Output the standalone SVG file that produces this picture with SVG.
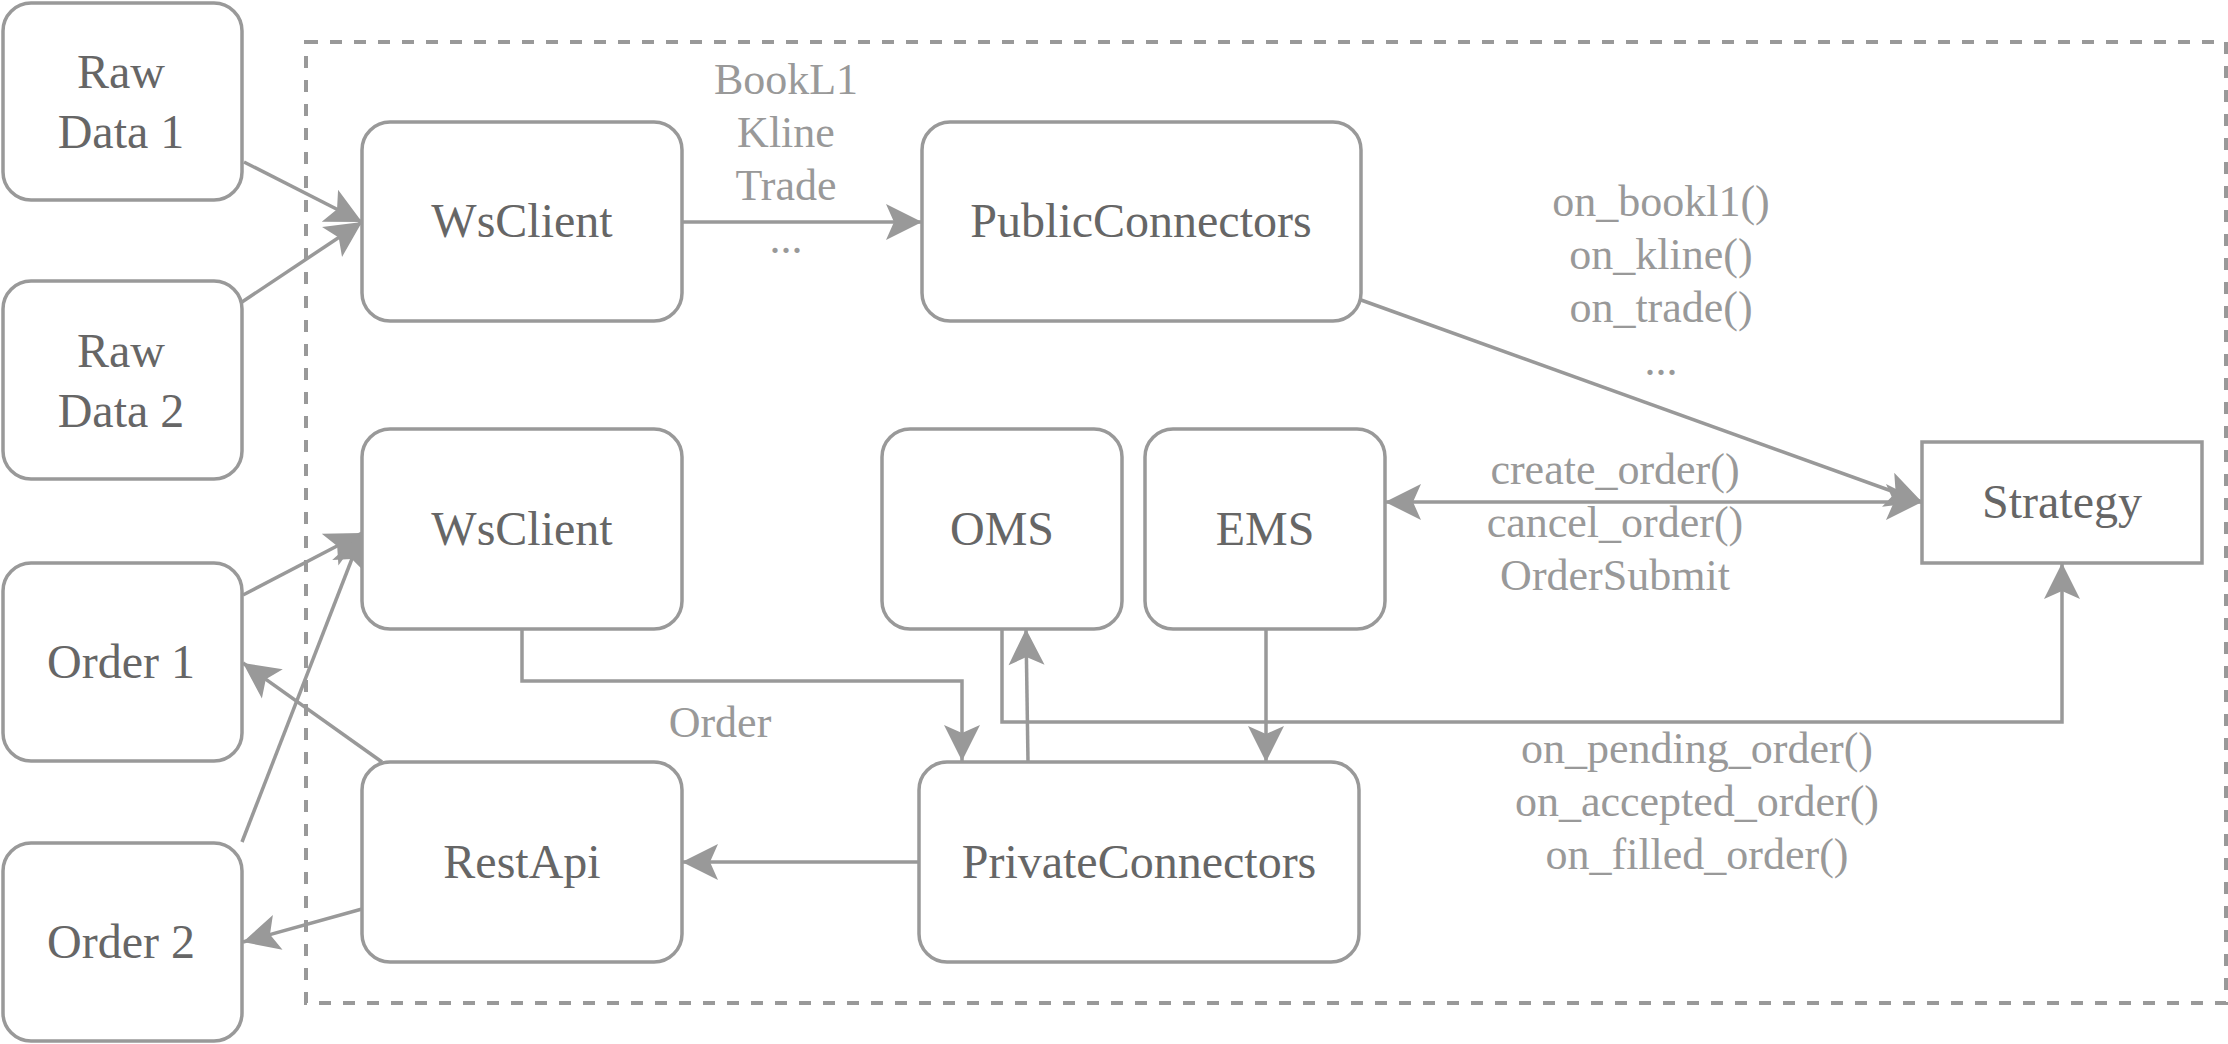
<svg xmlns="http://www.w3.org/2000/svg" width="2228" height="1044" viewBox="0 0 2228 1044">
<defs>
<style>
.node{fill:#ffffff;stroke:#999999;stroke-width:3.5}
.nt{font-family:"Liberation Serif","Times New Roman",serif;font-size:48px;fill:#666666;text-anchor:middle}
.el{font-family:"Liberation Serif","Times New Roman",serif;font-size:44px;fill:#999999;text-anchor:middle}
.edge{fill:none;stroke:#999999;stroke-width:3.5}
.frame{fill:none;stroke:#999999;stroke-width:4;stroke-dasharray:12 12}
</style>
<marker id="arr" markerUnits="userSpaceOnUse" markerWidth="40" markerHeight="40" refX="36" refY="18" orient="auto-start-reverse" overflow="visible">
<path d="M36,18 L0,0 L8,18 L0,36 Z" fill="#999999"/>
</marker>
</defs>
<rect width="2228" height="1044" fill="#ffffff"/>
<rect class="frame" x="306" y="42" width="1920" height="961"/>
<g id="connectors">
<path class="edge" d="M244,162 L362,222" marker-end="url(#arr)"/>
<path class="edge" d="M242,302 L362,222" marker-end="url(#arr)"/>
<path class="edge" d="M682,222 L922,222" marker-end="url(#arr)"/>
<path class="edge" d="M1361,300 L1922,502" marker-end="url(#arr)"/>
<path class="edge" d="M1385,502 L1922,502" marker-start="url(#arr)" marker-end="url(#arr)"/>
<path class="edge" d="M243,595 L362,533" marker-end="url(#arr)"/>
<path class="edge" d="M242,842 L362,533" marker-end="url(#arr)"/>
<path class="edge" d="M382,762 L243,663" marker-end="url(#arr)"/>
<path class="edge" d="M362,909 L243,942" marker-end="url(#arr)"/>
<path class="edge" d="M522,629 L522,681 L962,681 L962,761" marker-end="url(#arr)"/>
<path class="edge" d="M1028,762 L1026,629" marker-end="url(#arr)"/>
<path class="edge" d="M1266,629 L1266,762" marker-end="url(#arr)"/>
<path class="edge" d="M1002,629 L1002,722 L2062,722 L2062,563" marker-end="url(#arr)"/>
<path class="edge" d="M919,862 L682,862" marker-end="url(#arr)"/>
<text class="el" x="786" y="94">BookL1</text>
<text class="el" x="786" y="147">Kline</text>
<text class="el" x="786" y="200">Trade</text>
<text class="el" x="786" y="253">...</text>
<text class="el" x="1661" y="216">on_bookl1()</text>
<text class="el" x="1661" y="269">on_kline()</text>
<text class="el" x="1661" y="322">on_trade()</text>
<text class="el" x="1661" y="375">...</text>
<text class="el" x="1615" y="484">create_order()</text>
<text class="el" x="1615" y="537">cancel_order()</text>
<text class="el" x="1615" y="590">OrderSubmit</text>
<text class="el" x="720" y="737">Order</text>
<text class="el" x="1697" y="763">on_pending_order()</text>
<text class="el" x="1697" y="816">on_accepted_order()</text>
<text class="el" x="1697" y="869">on_filled_order()</text>
</g>
<g id="raw1"><rect class="node" x="3" y="3" width="239" height="197" rx="28"/><text class="nt" x="121" y="88">Raw</text><text class="nt" x="121" y="148">Data 1</text></g>
<g id="raw2"><rect class="node" x="3" y="281" width="239" height="198" rx="28"/><text class="nt" x="121" y="367">Raw</text><text class="nt" x="121" y="427">Data 2</text></g>
<g id="order1"><rect class="node" x="3" y="563" width="239" height="198" rx="28"/><text class="nt" x="121" y="678">Order 1</text></g>
<g id="order2"><rect class="node" x="3" y="843" width="239" height="198" rx="28"/><text class="nt" x="121" y="958">Order 2</text></g>
<g id="wsclient1"><rect class="node" x="362" y="122" width="320" height="199" rx="28"/><text class="nt" x="522" y="237">WsClient</text></g>
<g id="public"><rect class="node" x="922" y="122" width="439" height="199" rx="28"/><text class="nt" x="1141" y="237">PublicConnectors</text></g>
<g id="wsclient2"><rect class="node" x="362" y="429" width="320" height="200" rx="28"/><text class="nt" x="522" y="545">WsClient</text></g>
<g id="oms"><rect class="node" x="882" y="429" width="240" height="200" rx="28"/><text class="nt" x="1002" y="545">OMS</text></g>
<g id="ems"><rect class="node" x="1145" y="429" width="240" height="200" rx="28"/><text class="nt" x="1265" y="545">EMS</text></g>
<g id="strategy"><rect class="node" x="1922" y="442" width="280" height="121"/><text class="nt" x="2062" y="518">Strategy</text></g>
<g id="restapi"><rect class="node" x="362" y="762" width="320" height="200" rx="28"/><text class="nt" x="522" y="878">RestApi</text></g>
<g id="private"><rect class="node" x="919" y="762" width="440" height="200" rx="28"/><text class="nt" x="1139" y="878">PrivateConnectors</text></g>
</svg>
